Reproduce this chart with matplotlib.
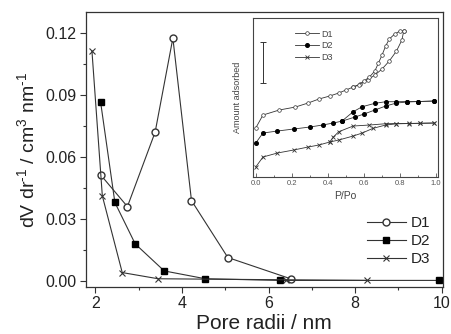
import matplotlib
matplotlib.use("Agg")
import matplotlib.pyplot as plt
from matplotlib.ticker import MultipleLocator

plt.rcParams['font.family'] = ['Liberation Sans', 'DejaVu Sans']
plt.rcParams['mathtext.fontset'] = 'custom'
plt.rcParams['mathtext.rm'] = 'Liberation Sans'

# pore size distribution (main plot)
d1_r = [2.12, 2.74, 3.38, 3.79, 4.22, 5.06, 6.51]
d1_v = [0.0514, 0.036, 0.0721, 0.1177, 0.0389, 0.0113, 0.0010]
d2_r = [2.12, 2.45, 2.92, 3.59, 4.54, 6.26, 9.93]
d2_v = [0.0867, 0.0380, 0.0179, 0.0048, 0.0010, 0.0002, 0.0002]
d3_r = [1.92, 2.16, 2.62, 3.45, 6.40, 8.27]
d3_v = [0.1115, 0.0412, 0.0040, 0.0010, 0.0005, 0.0002]

# isotherms (inset), arbitrary units
d1_ads_p = [0.0, 0.04, 0.13, 0.22, 0.29, 0.35, 0.41, 0.46, 0.50, 0.54, 0.58, 0.62, 0.66, 0.70, 0.74, 0.78, 0.81, 0.82]
d1_ads_a = [49, 62, 67, 70, 74, 78, 81, 84, 87, 90, 93, 97, 102, 108, 116, 126, 137, 146]
d1_des_p = [0.82, 0.80, 0.77, 0.74, 0.72, 0.70, 0.68, 0.66, 0.63, 0.60, 0.57, 0.54]
d1_des_a = [146, 146, 143, 138, 131, 122, 114, 106, 100, 96, 92, 90]
d2_ads_p = [0.0, 0.04, 0.12, 0.21, 0.30, 0.37, 0.43, 0.48, 0.55, 0.60, 0.66, 0.72, 0.78, 0.84, 0.90, 0.99]
d2_ads_a = [34, 44, 46, 48, 50, 52, 54, 56, 60, 63, 67, 71, 74, 75, 75.5, 76]
d2_des_p = [0.99, 0.90, 0.84, 0.78, 0.72, 0.66, 0.59, 0.54, 0.48]
d2_des_a = [76, 75.5, 75.5, 75.3, 75.3, 73.7, 70.3, 65.3, 56.3]
d3_ads_p = [0.0, 0.04, 0.12, 0.21, 0.29, 0.35, 0.41, 0.46, 0.54, 0.59, 0.65, 0.72, 0.78, 0.85, 0.91, 0.99]
d3_ads_a = [10, 20, 24, 27, 30, 32, 35, 37, 41, 44, 48.7, 52, 53.2, 53.5, 53.7, 54]
d3_des_p = [0.99, 0.91, 0.85, 0.78, 0.72, 0.63, 0.54, 0.46, 0.43, 0.41]
d3_des_a = [54, 53.8, 53.6, 53.5, 53.3, 52, 51, 45.3, 40, 35]

lc = '#333333'
tc = '#222222'

fig = plt.figure(figsize=(4.52, 3.34), dpi=100)
ax = fig.add_axes([0.190, 0.1407, 0.789, 0.823])

ax.plot(d1_r, d1_v, '-o', color=lc, mfc='white', mec=lc, ms=5, lw=0.8, label='D1')
ax.plot(d2_r, d2_v, '-s', color=lc, mfc='black', mec='black', ms=4.5, lw=0.8, label='D2')
ax.plot(d3_r, d3_v, '-x', color=lc, mec=lc, ms=5, mew=0.8, lw=0.8, label='D3')

ax.set_xlim(1.78, 10.02)
ax.set_ylim(-0.003, 0.1303)
ax.xaxis.set_major_locator(MultipleLocator(2))
ax.xaxis.set_minor_locator(MultipleLocator(1))
ax.yaxis.set_major_locator(MultipleLocator(0.03))
ax.yaxis.set_minor_locator(MultipleLocator(0.015))
ax.set_yticks([0, 0.03, 0.06, 0.09, 0.12])
ax.set_yticklabels(['0.00', '0.03', '0.06', '0.09', '0.12'])
ax.tick_params(which='major', direction='out', length=4.5, width=0.8, labelsize=11.5,
               colors=lc, labelcolor=tc, pad=2)
ax.tick_params(which='minor', direction='out', length=2.5, width=0.8, colors=lc)
for s in ax.spines.values():
    s.set_color(lc)
    s.set_linewidth(0.9)

ax.set_xlabel('Pore radii / nm', fontsize=15, color=tc, labelpad=2)
ax.set_ylabel(r'dV dr$^{\text{-}1}$ / cm$^{3}$ nm$^{\text{-}1}$', fontsize=14, color=tc, labelpad=5)

leg = ax.legend(loc='center left', bbox_to_anchor=(0.811, 0.278), bbox_transform=fig.transFigure,
                frameon=False, fontsize=11, handlelength=2.6, handletextpad=0.3,
                labelspacing=0.28, borderpad=0, borderaxespad=0)
for t in leg.get_texts():
    t.set_color(tc)

# inset with isotherms
ins = fig.add_axes([0.559, 0.470, 0.410, 0.476])
ins.plot(d1_ads_p, d1_ads_a, '-o', color=lc, mfc='white', mec=lc, ms=2.6, lw=0.6, mew=0.5, label='D1')
ins.plot(d1_des_p, d1_des_a, '-o', color=lc, mfc='white', mec=lc, ms=2.6, lw=0.6, mew=0.5)
ins.plot(d2_ads_p, d2_ads_a, '-o', color=lc, mfc='black', mec='black', ms=2.6, lw=0.6, label='D2')
ins.plot(d2_des_p, d2_des_a, '-o', color=lc, mfc='black', mec='black', ms=2.6, lw=0.6)
ins.plot(d3_ads_p, d3_ads_a, '-x', color=lc, mec=lc, ms=2.6, lw=0.6, mew=0.6, label='D3')
ins.plot(d3_des_p, d3_des_a, '-x', color=lc, mec=lc, ms=2.6, lw=0.6, mew=0.6)

# scale bar
ins.errorbar([0.04], [114.8], yerr=[20.5], color=lc, lw=0.7, capsize=2, capthick=0.7)

ins.set_xlim(-0.017, 1.01)
ins.set_ylim(0, 159)
ins.set_yticks([])
ins.xaxis.set_major_locator(MultipleLocator(0.2))
ins.xaxis.set_minor_locator(MultipleLocator(0.1))
ins.tick_params(which='major', direction='in', length=3, width=0.6, labelsize=5.5,
                colors='#555555', pad=2)
ins.tick_params(which='minor', direction='in', length=1.8, width=0.6, colors='#555555')
for s in ins.spines.values():
    s.set_color('#444444')
    s.set_linewidth(0.8)
ins.set_xlabel('P/Po', fontsize=7.5, color='#444444', labelpad=3)
ins.set_ylabel('Amount adsorbed', fontsize=6.5, color='#444444', labelpad=8)

ileg = ins.legend(loc='center left', bbox_to_anchor=(0.653, 0.863), bbox_transform=fig.transFigure,
                  frameon=False, fontsize=6.5, handlelength=2.6, handletextpad=0.3,
                  labelspacing=0.3, borderpad=0, borderaxespad=0)
for t in ileg.get_texts():
    t.set_color('#444444')

fig.savefig('out.png', dpi=100)
